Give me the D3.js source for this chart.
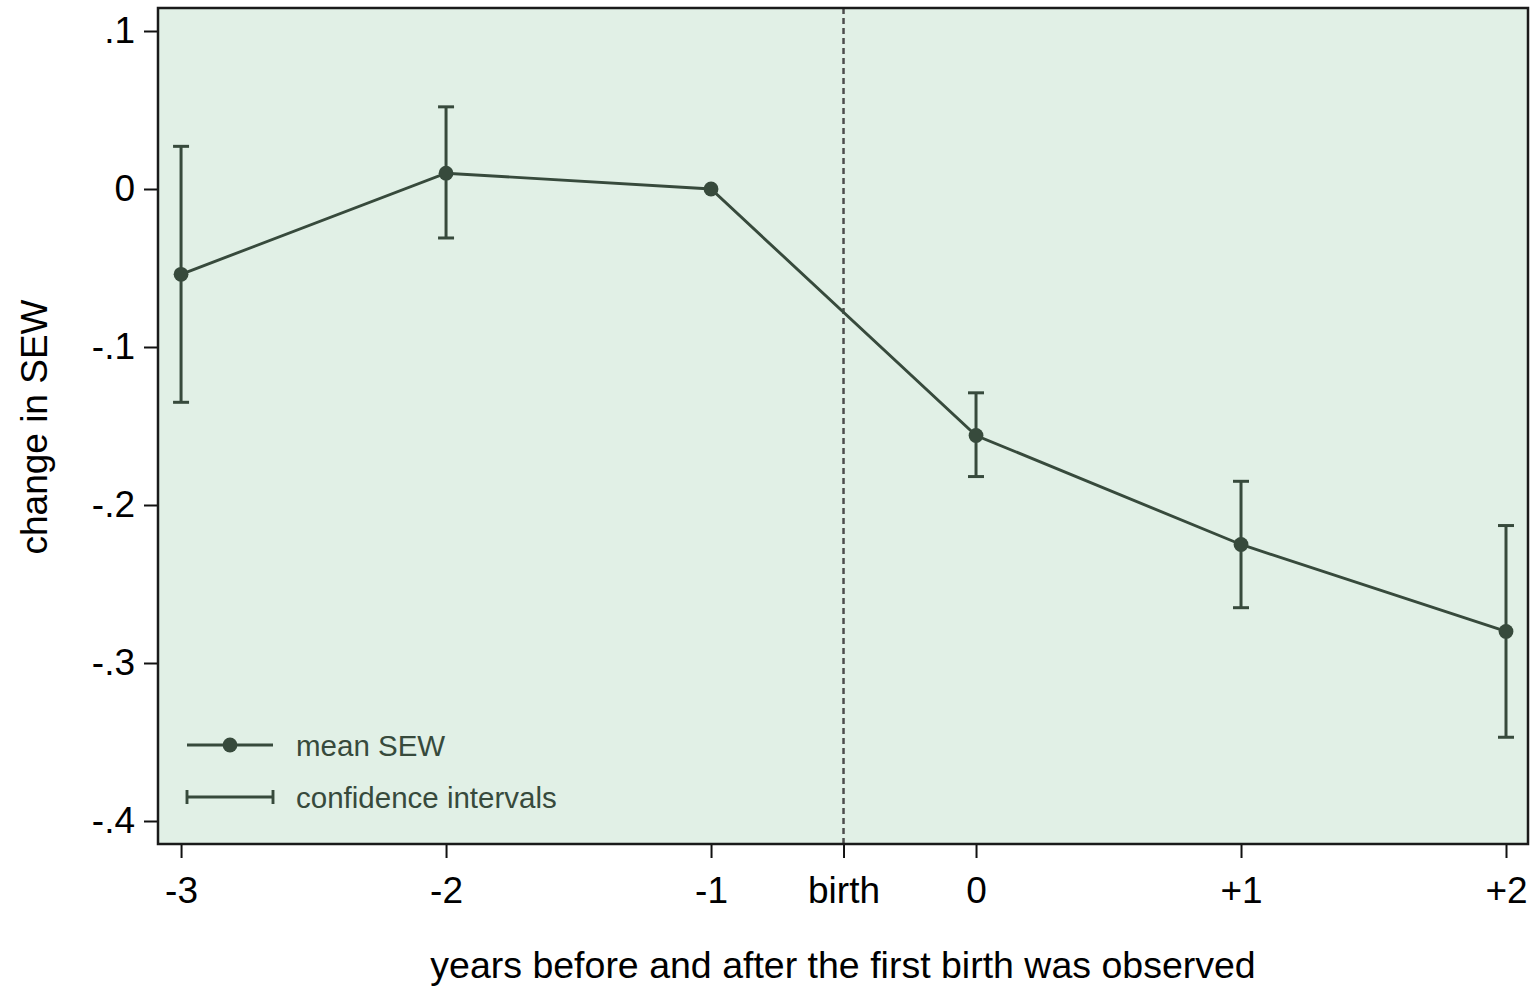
<!DOCTYPE html>
<html>
<head>
<meta charset="utf-8">
<script src="https://cdn.jsdelivr.net/npm/d3@7"></script>
<style>
  html, body { margin: 0; padding: 0; background: #fff; }
  svg { display: block; font-family: "Liberation Sans", Arial, sans-serif; }
</style>
</head>
<body>
<svg id="chart" width="1530" height="987"></svg>
<script>
// Event-time positions (years relative to first birth) and their tick labels
const xTicks = [-3, -2, -1, -0.5, 0, 1, 2];
const xTickLabels = ["-3", "-2", "-1", "birth", "0", "+1", "+2"];
const yTicks = [0.1, 0, -0.1, -0.2, -0.3, -0.4];
const yTickLabels = [".1", "0", "-.1", "-.2", "-.3", "-.4"];

// Mean change in SEW per year and its confidence bounds
const years = [-3, -2, -1, 0, 1, 2];
const meanSEW = [-0.054, 0.010, 0.000, -0.156, -0.225, -0.280];
const ciUpper = [0.027, 0.052, null, -0.129, -0.185, -0.213];
const ciLower = [-0.135, -0.031, null, -0.182, -0.265, -0.347];

const birthAt = -0.5;

const svg = d3.select("#chart");
const plotL = 158, plotR = 1528, plotT = 8, plotB = 844;
const ink = "#374a3c";
const fontFam = "'Liberation Sans', Arial, sans-serif";

const x = d3.scaleLinear().domain([-3.087, 2.083]).range([plotL, plotR]);
const y = d3.scaleLinear().domain([0.1, -0.4]).range([31, 821]);

// plot region
svg.append("rect")
  .attr("x", plotL).attr("y", plotT)
  .attr("width", plotR - plotL).attr("height", plotB - plotT)
  .attr("fill", "#e1f0e6");

// vertical marker for the birth
svg.append("line")
  .attr("x1", x(birthAt)).attr("x2", x(birthAt))
  .attr("y1", plotT).attr("y2", plotB)
  .attr("stroke", "#4d4d4d").attr("stroke-width", 2.5)
  .attr("stroke-dasharray", "6,4");

// axes
const yAxis = d3.axisLeft(y).tickValues(yTicks)
  .tickFormat((d, i) => yTickLabels[i]).tickSize(14).tickPadding(9);
const gy = svg.append("g").attr("transform", `translate(${plotL},0)`).call(yAxis)
  .attr("font-family", fontFam).attr("font-size", 37);
gy.select(".domain").remove();
gy.selectAll(".tick line").attr("stroke", "#111").attr("stroke-width", 2);
gy.selectAll(".tick text").attr("fill", "#000");

const xAxis = d3.axisBottom(x).tickValues(xTicks)
  .tickFormat((d, i) => xTickLabels[i]).tickSize(14).tickPadding(19);
const gx = svg.append("g").attr("transform", `translate(0,${plotB})`).call(xAxis)
  .attr("font-family", fontFam).attr("font-size", 37);
gx.select(".domain").remove();
gx.selectAll(".tick line").attr("stroke", "#111").attr("stroke-width", 2);
gx.selectAll(".tick text").attr("fill", "#000");

// frame
svg.append("rect")
  .attr("x", plotL).attr("y", plotT)
  .attr("width", plotR - plotL).attr("height", plotB - plotT)
  .attr("fill", "none").attr("stroke", "#1a1a1a").attr("stroke-width", 2.5);

// confidence intervals
const ci = years.map((d, i) => ({ x: d, lo: ciLower[i], hi: ciUpper[i] }))
  .filter(d => d.lo !== null);
const capW = 8;
const gci = svg.append("g").attr("stroke", ink).attr("stroke-width", 3);
ci.forEach(d => {
  gci.append("line").attr("x1", x(d.x)).attr("x2", x(d.x))
    .attr("y1", y(d.hi)).attr("y2", y(d.lo));
  gci.append("line").attr("x1", x(d.x) - capW).attr("x2", x(d.x) + capW)
    .attr("y1", y(d.hi)).attr("y2", y(d.hi));
  gci.append("line").attr("x1", x(d.x) - capW).attr("x2", x(d.x) + capW)
    .attr("y1", y(d.lo)).attr("y2", y(d.lo));
});

// mean line and markers
const pts = years.map((d, i) => [d, meanSEW[i]]);
svg.append("path")
  .datum(pts)
  .attr("fill", "none").attr("stroke", ink).attr("stroke-width", 2.9)
  .attr("d", d3.line().x(d => x(d[0])).y(d => y(d[1])));
svg.append("g").selectAll("circle").data(pts).join("circle")
  .attr("cx", d => x(d[0])).attr("cy", d => y(d[1])).attr("r", 7.4)
  .attr("fill", ink);

// legend
const lg = svg.append("g");
lg.append("line").attr("x1", 187).attr("x2", 273).attr("y1", 745).attr("y2", 745)
  .attr("stroke", ink).attr("stroke-width", 2.9);
lg.append("circle").attr("cx", 230).attr("cy", 745).attr("r", 7.4).attr("fill", ink);
lg.append("text").attr("x", 296).attr("y", 756).text("mean SEW")
  .attr("fill", ink).style("font-size", "29.5px");
lg.append("line").attr("x1", 187).attr("x2", 273).attr("y1", 797).attr("y2", 797)
  .attr("stroke", ink).attr("stroke-width", 2.9);
lg.append("line").attr("x1", 187).attr("x2", 187).attr("y1", 790).attr("y2", 804)
  .attr("stroke", ink).attr("stroke-width", 2.9);
lg.append("line").attr("x1", 273).attr("x2", 273).attr("y1", 790).attr("y2", 804)
  .attr("stroke", ink).attr("stroke-width", 2.9);
lg.append("text").attr("x", 296).attr("y", 808).text("confidence intervals")
  .attr("fill", ink).style("font-size", "29.5px");

// axis titles
svg.append("text")
  .attr("x", (plotL + plotR) / 2).attr("y", 978)
  .attr("text-anchor", "middle").style("font-size", "37.5px").attr("fill", "#000")
  .text("years before and after the first birth was observed");
svg.append("text")
  .attr("transform", "translate(47,427) rotate(-90)")
  .attr("text-anchor", "middle").style("font-size", "37px").attr("fill", "#000")
  .text("change in SEW");
</script>
</body>
</html>
